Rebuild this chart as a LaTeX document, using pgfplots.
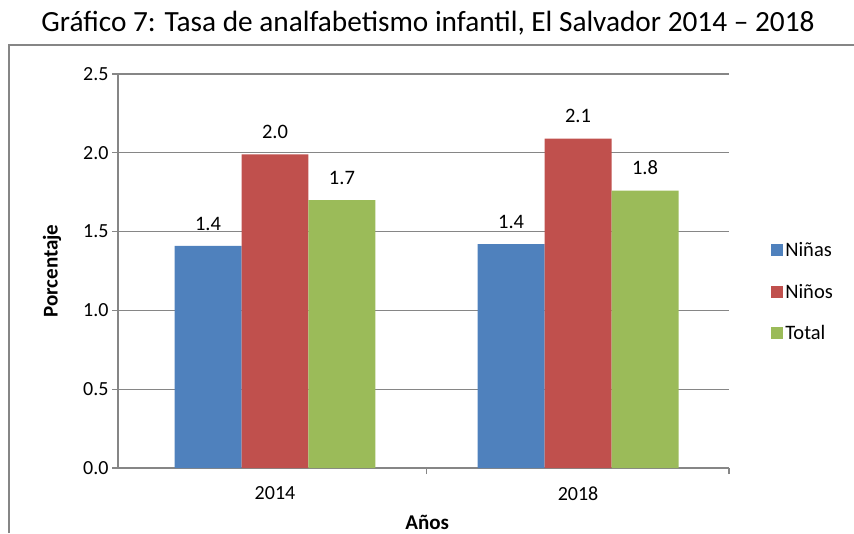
\documentclass[border=0pt]{standalone}
\usepackage{pgfplots}
\pgfplotsset{compat=1.18}
\usepackage{fontspec}
\setmainfont{Carlito}
\definecolor{cblue}{HTML}{4F81BD}
\definecolor{cred}{HTML}{C0504D}
\definecolor{cgreen}{HTML}{9BBB59}
\definecolor{agray}{HTML}{868686}
\begin{document}
\begin{tikzpicture}[x=1pt,y=1pt]
\useasboundingbox (0,0) rectangle (854,533);
\draw[color=agray, line width=1.2pt] (9,0) -- (9,488) -- (854,488);
\node[font=\fontsize{29.3}{33}\selectfont] at (428,510) {Gráfico 7: Tasa de analfabetismo infantil, El Salvador 2014 – 2018};
\begin{axis}[
  at={(118pt,65pt)}, anchor=south west, scale only axis,
  width=611pt, height=394pt,
  xmin=-0.518, xmax=1.498, ymin=0, ymax=2.5,
  ytick={0,0.5,1,1.5,2,2.5},
  yticklabel style={/pgf/number format/.cd, fixed, fixed zerofill, precision=1},
  /pgf/number format/assume math mode=true,
  axis x line=bottom, axis y line=left,
  axis line style={agray, line width=1.2pt, -},
  ymajorgrids, grid style={agray, line width=1.2pt},
  tick style={agray, line width=1.2pt},
  tick align=outside, major tick length=6pt,
  xtick={0.5,1.498}, xticklabels={},
  extra x ticks={0,1}, extra x tick labels={2014,2018},
  extra x tick style={major tick length=0pt, grid=none, xticklabel style={yshift=-15pt}},
  tick label style={font=\fontsize{20}{24}\selectfont, black},
  ybar=0pt, bar width=0.221,
  nodes near coords,
  nodes near coords style={font=\fontsize{20.5}{24}\selectfont, anchor=south, yshift=12pt,
    /pgf/number format/.cd, fixed, fixed zerofill, precision=1},
  ylabel={\textbf{Porcentaje}}, xlabel={\textbf{Años}},
  ylabel style={at={(axis description cs:-0.108,0.5)}, anchor=center, font=\fontsize{21}{24}\selectfont},
  xlabel style={at={(axis description cs:0.506,-0.137)}, anchor=center, font=\fontsize{21}{24}\selectfont},
  legend style={at={(axis description cs:1.064,0.447)}, anchor=west, draw=none, fill=none,
    font=\fontsize{20.5}{24}\selectfont, row sep=22pt},
  legend cell align=left,
  legend image code/.code={\fill[#1] (0pt,-6pt) rectangle (12pt,6pt);},
]
\addplot[fill=cblue, draw=none] coordinates {(0,1.41) (1,1.42)};
\addplot[fill=cred, draw=none] coordinates {(0,1.99) (1,2.09)};
\addplot[fill=cgreen, draw=none] coordinates {(0,1.70) (1,1.76)};
\legend{Niñas,Niños,Total}
\end{axis}
\end{tikzpicture}
\end{document}
